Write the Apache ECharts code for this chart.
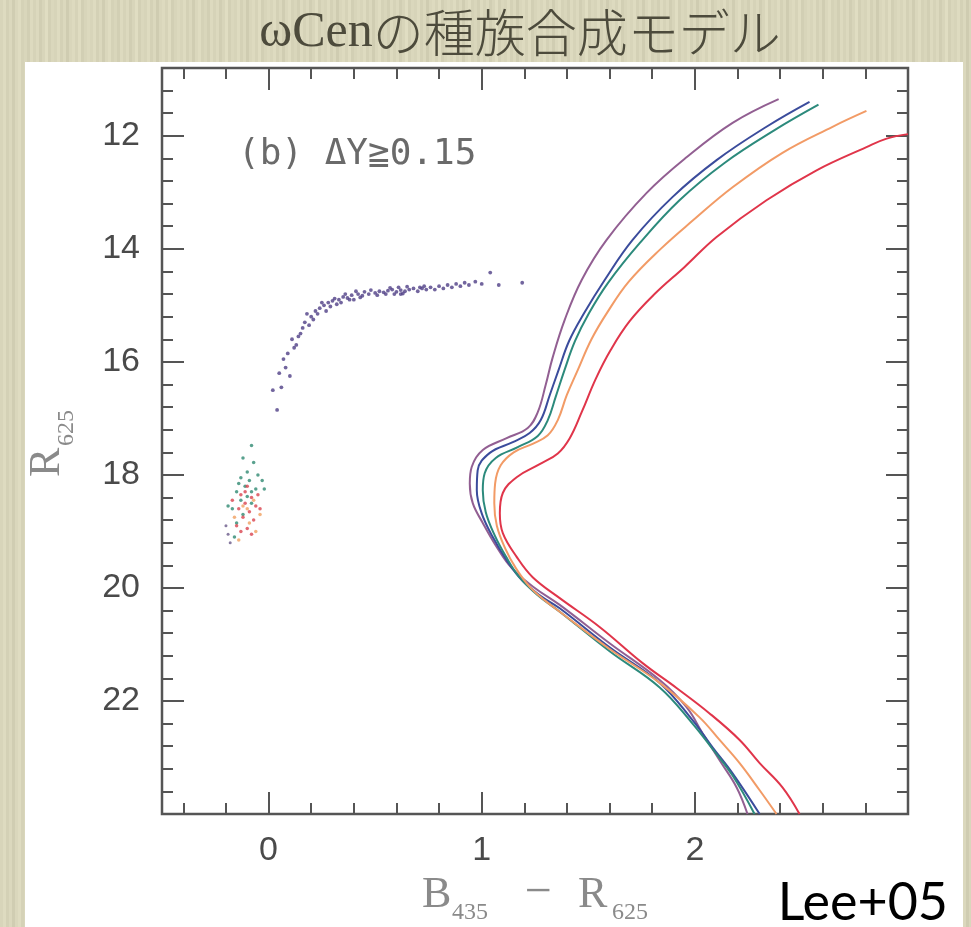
<!DOCTYPE html>
<html>
<head>
<meta charset="utf-8">
<script src="https://cdn.jsdelivr.net/npm/echarts@6/dist/echarts.min.js"></script>
<style>
html,body{margin:0;padding:0;background:#d8d5b9;}
#c{width:971px;height:927px;}
</style>
</head>
<body>
<div id="c"></div>
<script>
// ---------- axis ticks / labels ----------
const xMajor = [0, 1, 2];
const xMinor = [-0.4, -0.2, 0.2, 0.4, 0.6, 0.8, 1.2, 1.4, 1.6, 1.8, 2.2, 2.4, 2.6, 2.8];
const yMajor = [12, 14, 16, 18, 20, 22];
const yMinor = [11.2, 11.6, 12.4, 12.8, 13.2, 13.6, 14.4, 14.8, 15.2, 15.6, 16.4, 16.8, 17.2, 17.6,
  18.4, 18.8, 19.2, 19.6, 20.4, 20.8, 21.2, 21.6, 22.4, 22.8, 23.2, 23.6];

// ---------- isochrones [B435-R625, R625] ----------
const isoPurple = [[2.393,11.35],[2.177,11.77],[1.961,12.38],[1.774,13.01],[1.586,13.84],[1.469,14.55],
  [1.389,15.26],[1.333,15.92],[1.300,16.41],[1.263,16.89],[1.216,17.17],[1.117,17.35],[1.005,17.56],
  [0.953,17.86],[0.944,18.15],[0.958,18.50],[1.005,18.85],[1.071,19.28],[1.141,19.65],[1.249,20.00],
  [1.366,20.30],[1.600,20.98],[1.835,21.63],[1.961,22.11],[2.036,22.57],[2.116,23.05],[2.196,23.53],[2.247,24.0]];
const isoBlue = [[2.538,11.40],[2.336,11.84],[2.102,12.43],[1.896,13.08],[1.708,13.84],[1.577,14.55],
  [1.480,15.14],[1.410,15.63],[1.360,16.15],[1.319,16.59],[1.277,17.03],[1.225,17.26],[1.146,17.42],
  [1.038,17.61],[0.981,17.92],[0.977,18.27],[1.000,18.68],[1.052,19.10],[1.117,19.51],[1.188,19.86],
  [1.272,20.13],[1.366,20.36],[1.600,21.05],[1.835,21.68],[1.989,22.34],[2.083,22.82],[2.177,23.28],[2.304,24.0]];
const isoTeal = [[2.580,11.45],[2.374,11.90],[2.139,12.48],[1.928,13.14],[1.741,13.90],[1.591,14.61],
  [1.503,15.14],[1.438,15.63],[1.388,16.15],[1.347,16.62],[1.310,17.03],[1.263,17.31],[1.169,17.51],
  [1.066,17.70],[1.014,17.97],[1.005,18.27],[1.019,18.66],[1.061,19.07],[1.113,19.44],[1.175,19.80],
  [1.260,20.12],[1.366,20.42],[1.600,21.12],[1.835,21.76],[1.989,22.40],[2.083,22.85],[2.177,23.32],[2.280,24.0]];
const isoOrange = [[2.805,11.56],[2.646,11.84],[2.411,12.30],[2.177,12.91],[1.990,13.50],[1.840,14.00],
  [1.690,14.58],[1.590,15.12],[1.515,15.60],[1.450,16.15],[1.399,16.59],[1.357,17.03],[1.310,17.30],
  [1.239,17.45],[1.150,17.60],[1.089,17.83],[1.063,18.15],[1.059,18.50],[1.071,18.90],[1.110,19.30],
  [1.160,19.65],[1.225,19.98],[1.296,20.22],[1.366,20.42],[1.600,21.08],[1.835,21.68],[2.022,22.29],
  [2.116,22.69],[2.210,23.10],[2.304,23.58],[2.383,24.0]];
const isoRed = [[3.00,11.97],[2.900,12.05],[2.805,12.20],[2.571,12.61],[2.336,13.14],[2.102,13.79],
  [1.952,14.32],[1.811,14.80],[1.694,15.28],[1.605,15.79],[1.535,16.30],[1.469,16.89],[1.413,17.35],
  [1.357,17.62],[1.272,17.81],[1.164,18.04],[1.099,18.32],[1.085,18.68],[1.099,19.03],[1.164,19.45],
  [1.239,19.81],[1.366,20.18],[1.553,20.69],[1.755,21.33],[1.914,21.77],[2.069,22.22],[2.210,22.69],
  [2.304,23.10],[2.411,23.53],[2.491,24.0]];

// ---------- synthetic HB stars ----------
const hbStars = [[0.04,16.85],[0.02,16.5],[0.06,16.45],[0.05,16.2],[0.08,16.1],[0.07,15.95],[0.10,16.25],
  [0.09,15.85],[0.12,15.75],[0.11,15.6],[0.14,15.55],[0.13,15.7],[0.16,15.4],[0.15,15.5],[0.17,15.3],
  [0.19,15.35],[0.20,15.2],[0.18,15.15],[0.22,15.1],[0.21,15.25],[0.24,15.05],[0.23,15.15],[0.26,15.0],
  [0.25,14.95],[0.27,15.1],[0.28,14.95],[0.30,14.92],[0.29,15.02],[0.31,14.88],[0.33,14.9],[0.32,14.98],
  [0.35,14.85],[0.34,14.95],[0.37,14.87],[0.36,14.8],[0.39,14.82],[0.40,14.9],[0.42,14.8],[0.41,14.75],
  [0.44,14.83],[0.45,14.76],[0.47,14.8],[0.48,14.73],[0.50,14.78],[0.52,14.75],[0.51,14.82],[0.54,14.77],
  [0.56,14.74],[0.55,14.8],[0.58,14.72],[0.60,14.76],[0.59,14.8],[0.62,14.73],[0.61,14.68],[0.64,14.75],
  [0.63,14.79],[0.66,14.72],[0.68,14.7],[0.70,14.75],[0.72,14.7],[0.74,14.72],[0.73,14.66],[0.76,14.68],
  [0.78,14.72],[0.80,14.66],[0.82,14.7],[0.84,14.64],[0.86,14.68],[0.88,14.62],[0.90,14.66],[0.92,14.6],
  [0.94,14.64],[0.97,14.58],[1.00,14.62],[1.04,14.42],[1.08,14.64],[1.19,14.6],[0.57,14.69],[0.65,14.67],
  [0.43,14.86],[0.38,14.9],[0.62,14.8],[0.71,14.68]];
const ehbGreen = [[-0.08,17.48],[-0.12,17.7],[-0.07,17.78],[-0.10,17.95],[-0.05,18.0],[-0.13,18.05],
  [-0.09,18.1],[-0.11,18.2],[-0.06,18.25],[-0.15,18.3],[-0.10,18.38],[-0.13,18.45],[-0.08,18.5],
  [-0.17,18.6],[-0.12,18.7],[-0.15,18.85],[-0.03,18.1],[-0.02,18.25],[-0.14,18.15],[-0.08,18.3],
  [-0.19,18.55],[-0.16,19.1]];
const ehbRed = [[-0.10,18.2],[-0.13,18.35],[-0.08,18.4],[-0.11,18.5],[-0.06,18.55],[-0.14,18.6],
  [-0.09,18.65],[-0.12,18.75],[-0.07,18.8],[-0.15,18.9],[-0.10,18.95],[-0.04,18.6],[-0.17,18.45],
  [-0.13,19.0],[-0.08,19.05],[-0.11,18.3],[-0.05,18.35]];
const ehbOrange = [[-0.07,18.45],[-0.12,18.55],[-0.09,18.85],[-0.04,18.7],[-0.16,18.75],[-0.10,18.6],
  [-0.06,19.0],[-0.14,19.15]];
const ehbPurple = [[-0.20,18.9],[-0.18,19.2],[-0.19,19.05]];

// decorative paper texture (fixed stripe shades, not data)
const stripeShades = [0,6,-4,3,-8,2,7,-3,1,-6,5,-2,4,-7,0,8,-5,2,-1,6,-4,3,-9,1,5,-2,7,-6,0,4];
function makeTexture() {
  const cv = document.createElement('canvas');
  cv.width = stripeShades.length * 3; cv.height = 4;
  const ctx = cv.getContext('2d');
  stripeShades.forEach((s, i) => {
    ctx.fillStyle = 'rgb(' + (216 + s) + ',' + (213 + s) + ',' + (186 + s) + ')';
    ctx.fillRect(i * 3, 0, 3, 4);
  });
  return cv;
}

const chart = echarts.init(document.getElementById('c'));
const tickCol = '#555';
function xAx(pos, vals, len, labels) {
  return {type:'value', position:pos, min:-0.5, max:3, gridIndex:0,
    axisLine:{show:false, onZero:false}, splitLine:{show:false},
    axisTick:{show:true, inside:true, length:len, customValues:vals, lineStyle:{color:tickCol,width:2}},
    axisLabel:{show:labels, customValues:labels?vals:undefined, margin:20, color:'#4a4a4a',
      fontFamily:'Liberation Sans', fontSize:34}};
}
function yAx(pos, vals, len, labels) {
  return {type:'value', position:pos, min:10.8, max:24, inverse:true, gridIndex:0,
    axisLine:{show:false, onZero:false}, splitLine:{show:false},
    axisTick:{show:true, inside:true, length:len, customValues:vals, lineStyle:{color:tickCol,width:2}},
    axisLabel:{show:labels, customValues:labels?vals:undefined, margin:22, color:'#4a4a4a',
      fontFamily:'Liberation Sans', fontSize:34}};
}
function iso(data, color) {
  return {type:'line', data:data, xAxisIndex:0, yAxisIndex:0, showSymbol:false, smooth:0.4,
    lineStyle:{color:color, width:2}, z:3, silent:true};
}
function pts(data, color, size) {
  return {type:'scatter', data:data, xAxisIndex:0, yAxisIndex:0, symbol:'circle', symbolSize:size||3.5,
    itemStyle:{color:color, opacity:0.8}, z:2, silent:true};
}
chart.setOption({
  backgroundColor:{image: makeTexture(), repeat:'repeat'},
  animation:false,
  grid:{left:162, top:68, width:746, height:746, show:true, borderColor:'#555', borderWidth:2.5,
    backgroundColor:'#fff'},
  xAxis:[xAx('bottom', xMajor, 22, true), xAx('bottom', xMinor, 11, false),
         xAx('top', xMajor, 22, false), xAx('top', xMinor, 11, false)],
  yAxis:[yAx('left', yMajor, 22, true), yAx('left', yMinor, 11, false),
         yAx('right', yMajor, 22, false), yAx('right', yMinor, 11, false)],
  graphic:[
    {type:'rect', shape:{x:25, y:62, width:938, height:880}, style:{fill:'#ffffff'}, z:-100, silent:true},
    {type:'text', x:520, y:33, style:{text:'{a|ωCen}{b|の種族合成モデル}', align:'center', verticalAlign:'middle',
      rich:{a:{fontFamily:'Liberation Serif', fontSize:50, fill:'#4d4b3c'},
            b:{fontFamily:'Noto Sans CJK JP', fontWeight:300, fontSize:51, fill:'#4d4b3c'}}}, z:10},
    {type:'text', x:238, y:155, style:{text:'(b) ΔY≧0.15', fontFamily:'DejaVu Sans Mono', fontSize:36,
      fill:'#6a6a6a', verticalAlign:'middle'}, z:10},
    // x-axis title
    {type:'text', x:422, y:895, style:{text:'B', fontFamily:'Liberation Serif', fontSize:44, fill:'#8a8a8a', verticalAlign:'middle'}, z:10},
    {type:'text', x:452, y:913, style:{text:'435', fontFamily:'Liberation Serif', fontSize:24, fill:'#8a8a8a', verticalAlign:'middle'}, z:10},
    {type:'text', x:538, y:893, style:{text:'−', fontFamily:'Liberation Serif', fontSize:48, fill:'#8a8a8a', align:'center', verticalAlign:'middle'}, z:10},
    {type:'text', x:578, y:895, style:{text:'R', fontFamily:'Liberation Serif', fontSize:44, fill:'#8a8a8a', verticalAlign:'middle'}, z:10},
    {type:'text', x:612, y:913, style:{text:'625', fontFamily:'Liberation Serif', fontSize:24, fill:'#8a8a8a', verticalAlign:'middle'}, z:10},
    // y-axis title (rotated)
    {type:'group', x:47, y:477, rotation:Math.PI/2, z:10, children:[
      {type:'text', x:0, y:0, style:{text:'R', fontFamily:'Liberation Serif', fontSize:44, fill:'#8a8a8a', verticalAlign:'middle'}},
      {type:'text', x:31, y:20, style:{text:'625', fontFamily:'Liberation Serif', fontSize:24, fill:'#8a8a8a', verticalAlign:'middle'}}
    ]},
    {type:'text', x:948, y:903, style:{text:'Lee+05', fontFamily:'Lato', fontSize:52, fill:'#000', align:'right', verticalAlign:'middle'}, z:10}
  ],
  series:[
    pts(hbStars, '#4f3f86', 3.8),
    pts(ehbGreen, '#2f8a72', 3.5),
    pts(ehbRed, '#d9434f', 3.5),
    pts(ehbOrange, '#f0a060', 3.5),
    pts(ehbPurple, '#6a5a8a', 3),
    iso(isoPurple, '#925f92'),
    iso(isoBlue, '#3b4c9c'),
    iso(isoTeal, '#2c8a7c'),
    iso(isoOrange, '#f29b66'),
    iso(isoRed, '#e0354a')
  ]
});
</script>
</body>
</html>
